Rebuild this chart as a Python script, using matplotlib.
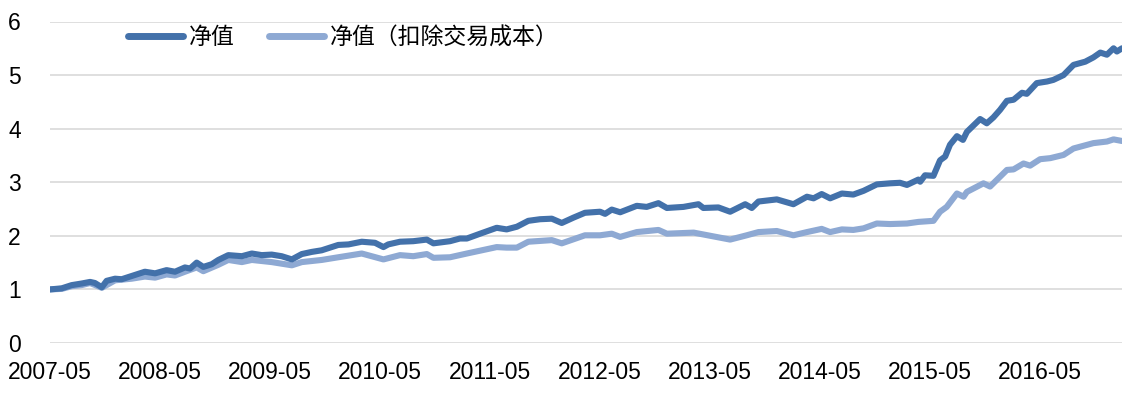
import matplotlib
matplotlib.use("Agg")
import matplotlib.pyplot as plt
import matplotlib.dates as mdates
import pandas as pd

plt.rcParams['font.family'] = ['Liberation Sans', 'Noto Sans CJK SC', 'DejaVu Sans']

# net value (dark line)
nav_dates = [
    "2007-05-01", "2007-06-09", "2007-07-12", "2007-08-14", "2007-09-11", "2007-09-27",
    "2007-10-20", "2007-11-05", "2007-12-03", "2007-12-25", "2008-01-27", "2008-03-11",
    "2008-04-14", "2008-05-22", "2008-06-19", "2008-07-22", "2008-08-08", "2008-08-30",
    "2008-09-21", "2008-10-19", "2008-11-10", "2008-12-13", "2009-01-27", "2009-03-01",
    "2009-04-03", "2009-05-06", "2009-06-08", "2009-07-12", "2009-08-14", "2009-09-16",
    "2009-10-19", "2009-11-21", "2009-12-13", "2010-01-16", "2010-03-01", "2010-04-14",
    "2010-05-12", "2010-05-28", "2010-07-06", "2010-08-19", "2010-10-03", "2010-10-25",
    "2010-12-19", "2011-01-21", "2011-02-13", "2011-03-29", "2011-05-23", "2011-06-25",
    "2011-07-29", "2011-09-05", "2011-10-14", "2011-11-22", "2011-12-25", "2012-02-02",
    "2012-03-11", "2012-04-30", "2012-05-17", "2012-06-08", "2012-07-06", "2012-08-30",
    "2012-10-02", "2012-11-10", "2012-12-08", "2013-02-01", "2013-03-23", "2013-04-08",
    "2013-05-28", "2013-07-06", "2013-08-25", "2013-09-16", "2013-10-08", "2013-12-08",
    "2014-02-01", "2014-03-18", "2014-04-09", "2014-05-06", "2014-06-03", "2014-07-12",
    "2014-08-19", "2014-09-22", "2014-11-05", "2014-12-19", "2015-01-21", "2015-02-13",
    "2015-03-23", "2015-03-29", "2015-04-14", "2015-05-12", "2015-06-03", "2015-06-20",
    "2015-07-06", "2015-07-29", "2015-08-18", "2015-08-31", "2015-10-14", "2015-11-05",
    "2015-11-27", "2015-12-19", "2016-01-11", "2016-02-02", "2016-03-01", "2016-03-17",
    "2016-04-19", "2016-05-23", "2016-06-13", "2016-07-17", "2016-08-19", "2016-09-27",
    "2016-10-24", "2016-11-16", "2016-12-08", "2016-12-30", "2017-01-10", "2017-01-27",
]
nav_values = [
    1.00, 1.02, 1.08, 1.11, 1.14, 1.12,
    1.04, 1.16, 1.20, 1.19, 1.25, 1.33,
    1.30, 1.36, 1.33, 1.41, 1.39, 1.50,
    1.42, 1.47, 1.55, 1.64, 1.62, 1.67,
    1.64, 1.65, 1.62, 1.56, 1.66, 1.70,
    1.73, 1.79, 1.83, 1.84, 1.89, 1.87,
    1.79, 1.84, 1.89, 1.90, 1.93, 1.86,
    1.90, 1.95, 1.95, 2.04, 2.15, 2.12,
    2.17, 2.28, 2.31, 2.32, 2.24, 2.34,
    2.43, 2.45, 2.41, 2.49, 2.44, 2.56,
    2.54, 2.61, 2.52, 2.54, 2.59, 2.52,
    2.53, 2.45, 2.59, 2.52, 2.64, 2.68,
    2.59, 2.73, 2.70, 2.78, 2.70, 2.79,
    2.77, 2.84, 2.96, 2.98, 2.99, 2.95,
    3.05, 3.01, 3.13, 3.12, 3.41, 3.48,
    3.70, 3.86, 3.79, 3.94, 4.18, 4.10,
    4.21, 4.35, 4.52, 4.54, 4.67, 4.65,
    4.85, 4.88, 4.91, 5.00, 5.19, 5.25,
    5.33, 5.42, 5.38, 5.50, 5.44, 5.50,
]

# net value after trading costs (light line)
net_dates = [
    "2007-05-01", "2007-06-09", "2007-07-12", "2007-08-14", "2007-09-11", "2007-10-20",
    "2007-12-03", "2008-01-27", "2008-03-11", "2008-04-14", "2008-05-22", "2008-06-19",
    "2008-07-22", "2008-08-30", "2008-09-21", "2008-11-10", "2008-12-13", "2009-01-27",
    "2009-03-01", "2009-05-06", "2009-07-12", "2009-08-14", "2009-10-19", "2009-12-13",
    "2010-03-01", "2010-05-12", "2010-07-06", "2010-08-19", "2010-10-03", "2010-10-25",
    "2010-12-19", "2011-02-13", "2011-05-23", "2011-06-25", "2011-07-29", "2011-09-05",
    "2011-11-22", "2011-12-25", "2012-03-11", "2012-04-30", "2012-06-08", "2012-07-06",
    "2012-08-30", "2012-11-10", "2012-12-08", "2013-03-07", "2013-07-06", "2013-08-30",
    "2013-10-08", "2013-12-08", "2014-02-01", "2014-03-18", "2014-05-06", "2014-06-03",
    "2014-07-12", "2014-08-19", "2014-09-22", "2014-11-05", "2014-12-19", "2015-02-13",
    "2015-03-23", "2015-05-12", "2015-06-03", "2015-06-25", "2015-07-29", "2015-08-20",
    "2015-08-31", "2015-10-25", "2015-11-16", "2016-01-11", "2016-02-02", "2016-03-06",
    "2016-03-28", "2016-04-30", "2016-06-03", "2016-07-17", "2016-08-19", "2016-10-24",
    "2016-12-08", "2016-12-30", "2017-01-27",
]
net_values = [
    1.00, 1.01, 1.06, 1.08, 1.12, 1.03,
    1.17, 1.20, 1.24, 1.22, 1.28, 1.26,
    1.33, 1.41, 1.34, 1.46, 1.55, 1.51,
    1.55, 1.51, 1.45, 1.51, 1.55, 1.60,
    1.67, 1.56, 1.64, 1.62, 1.66, 1.59,
    1.60, 1.67, 1.79, 1.78, 1.78, 1.89,
    1.92, 1.86, 2.01, 2.01, 2.04, 1.98,
    2.07, 2.11, 2.04, 2.06, 1.93, 2.01,
    2.07, 2.09, 2.01, 2.07, 2.13, 2.07,
    2.12, 2.11, 2.14, 2.23, 2.22, 2.23,
    2.26, 2.28, 2.45, 2.54, 2.79, 2.73,
    2.82, 2.98, 2.92, 3.23, 3.24, 3.35,
    3.31, 3.43, 3.45, 3.51, 3.63, 3.73,
    3.76, 3.80, 3.77,
]

series_labels = ["净值", "净值（扣除交易成本）"]
tick_dates = pd.date_range("2007-05-01", periods=10, freq="12MS")
y_ticks = [0, 1, 2, 3, 4, 5, 6]

dark = "#4371AA"
light = "#8EA9D3"

fig = plt.figure(figsize=(11.31, 3.96), dpi=100)
ax = fig.add_axes([50 / 1131, 53 / 396, 1072 / 1131, 321.5 / 396])

ax.plot(pd.to_datetime(net_dates), net_values, color=light, lw=4.4,
        solid_joinstyle="round", solid_capstyle="round", label=series_labels[1], zorder=3)
ax.plot(pd.to_datetime(nav_dates), nav_values, color=dark, lw=4.4,
        solid_joinstyle="round", solid_capstyle="round", label=series_labels[0], zorder=4)

ax.set_ylim(0, 6)
ax.set_yticks(y_ticks)
ax.set_xlim(pd.Timestamp(nav_dates[0]), pd.Timestamp(nav_dates[-1]))
ax.set_xticks(tick_dates)
ax.xaxis.set_major_formatter(mdates.DateFormatter("%Y-%m"))

ax.grid(True, axis="y", color="#D9D9D9", lw=1.2)
ax.set_axisbelow(True)
for s in ax.spines.values():
    s.set_visible(False)
ax.tick_params(axis="both", length=0, labelsize=16.5, colors="black")
ax.tick_params(axis="y", pad=21)
ax.tick_params(axis="x", pad=13)

handles, labels = ax.get_legend_handles_labels()
leg = ax.legend(handles[::-1], labels[::-1], loc="center left", bbox_to_anchor=(0.073, 0.949),
                ncol=2, frameon=False, borderpad=0, borderaxespad=0,
                handlelength=2.4, handletextpad=0.25, columnspacing=1.5,
                prop={"family": ["Noto Sans CJK SC", "DejaVu Sans"], "size": 16.5})
for line in leg.get_lines():
    line.set_linewidth(5)

fig.savefig("out.png", dpi=100)
